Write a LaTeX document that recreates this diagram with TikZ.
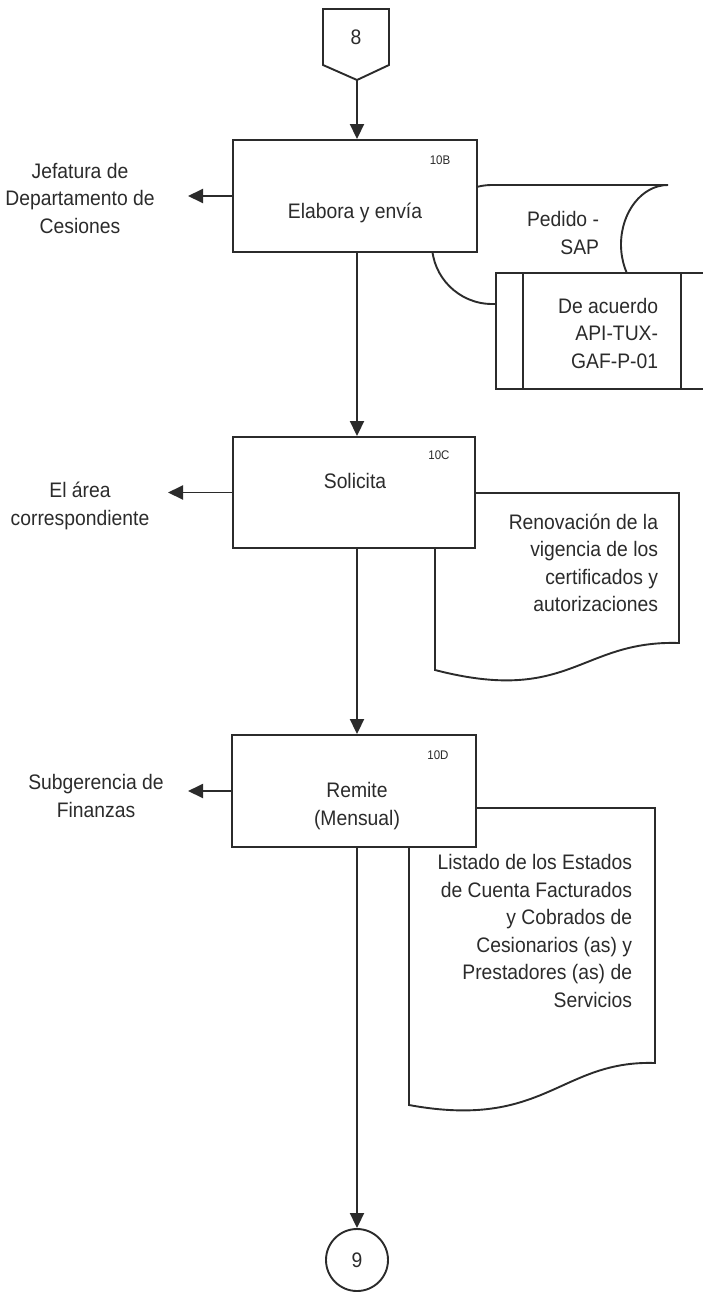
\documentclass[tikz,border=0pt]{standalone}
\usepackage{fontspec}
\setmainfont{Liberation Sans}[FakeStretch=0.92]
\usetikzlibrary{arrows.meta}
\definecolor{ink}{HTML}{2B2B2B}
\begin{document}
\begin{tikzpicture}[x=1pt,y=-1pt, line width=1.9pt, draw=ink,
  box/.style={draw=ink, fill=white, minimum width=244pt, minimum height=112pt, inner sep=0pt},
  txt/.style={font=\fontsize{21}{27.5}\selectfont, text=ink, inner sep=0pt, align=center},
  tag/.style={font=\fontsize{12.5}{14}\selectfont, text=ink, inner sep=0pt},
  arr/.style={draw=ink, -{Triangle[length=15pt,width=14pt]}},
  conn/.style={draw=ink, fill=white}]
\useasboundingbox (0,0) rectangle (703,1298);

% off-page connector 8
\draw[conn] (323,9) -- (389,9) -- (389,65) -- (357,80) -- (323,65) -- cycle;
\node[txt] (n8) at (356,37) {8};
\coordinate (c8tip) at (357,80);

% stored data Pedido - SAP
\draw[conn] (492,185) -- (668,185) .. controls (642,185) and (621,212) .. (621,244.5)
  .. controls (621,277) and (642,304) .. (668,304) -- (492,304)
  .. controls (459,304) and (432,277) .. (432,244.5)
  .. controls (432,212) and (459,185) .. (492,185) -- cycle;
\node[txt, align=right, anchor=east] (tped) at (600,233) {Pedido -\\SAP};

% predefined process De acuerdo
\fill[white] (496,273) rectangle (703,389);
\draw (703,273) -- (496,273) -- (496,389) -- (703,389);
\draw (523,273) -- (523,389);
\draw (681,273) -- (681,389);
\node[txt, align=right, anchor=east] (tacu) at (659,333) {De acuerdo\\API-TUX-\\GAF-P-01};

% box 10B
\node[box] (b10B) at (355,196) {};
\node[tag] (g10B) at (440,160) {10B};
\node[txt] (t10B) at (355,213) {Elabora y envía};
\coordinate (e10B) at (188,197);
\draw[arr] (b10B.west) -- (b10B.west -| e10B);
\node[txt] (l10B) at (80,198) {Jefatura de\\Departamento de\\Cesiones};

% document 10C
\draw[conn] (435,493) -- (679,493) -- (679,643) .. controls (580,640) and (570,705) .. (435,670) -- cycle;
\node[txt, align=right, anchor=east] (tren) at (659,563) {Renovación de la\\vigencia de los\\certificados y\\autorizaciones};

% box 10C
\node[box, minimum width=242pt, minimum height=111pt] (b10C) at (354,492.5) {};
\node[tag] (g10C) at (439,455) {10C};
\node[txt] (t10C) at (355,481) {Solicita};
\coordinate (e10C) at (168,492);
\draw[arr] (b10C.west) -- (b10C.west -| e10C);
\node[txt] (l10C) at (80,506) {El área\\correspondiente};

% document 10D
\draw[conn] (409,808) -- (655,808) -- (655,1063) .. controls (560,1060) and (545,1130) .. (409,1105) -- cycle;
\node[txt, align=right, anchor=east] (tlis) at (633,931) {Listado de los Estados\\de Cuenta Facturados\\y Cobrados de\\Cesionarios (as) y\\Prestadores (as) de\\Servicios};

% box 10D
\node[box] (b10D) at (354,791) {};
\node[tag] (g10D) at (438,755) {10D};
\node[txt] (t10D) at (357,806) {Remite\\(Mensual)};
\coordinate (e10D) at (188,792);
\draw[arr] (b10D.west) -- (b10D.west -| e10D);
\node[txt] (l10D) at (96,796) {Subgerencia de\\Finanzas};

% connector 9
\node[circle, draw=ink, minimum size=62pt, inner sep=0pt, txt] (c9) at (357,1260) {9};

% main flow
\draw[arr] (c8tip) -- (c8tip |- b10B.north);
\draw[arr] (b10B.south -| c8tip) -- (c8tip |- b10C.north);
\draw[arr] (b10C.south -| c8tip) -- (c8tip |- b10D.north);
\draw[arr] (b10D.south -| c8tip) -- (c8tip |- c9.north);
\end{tikzpicture}
\end{document}
